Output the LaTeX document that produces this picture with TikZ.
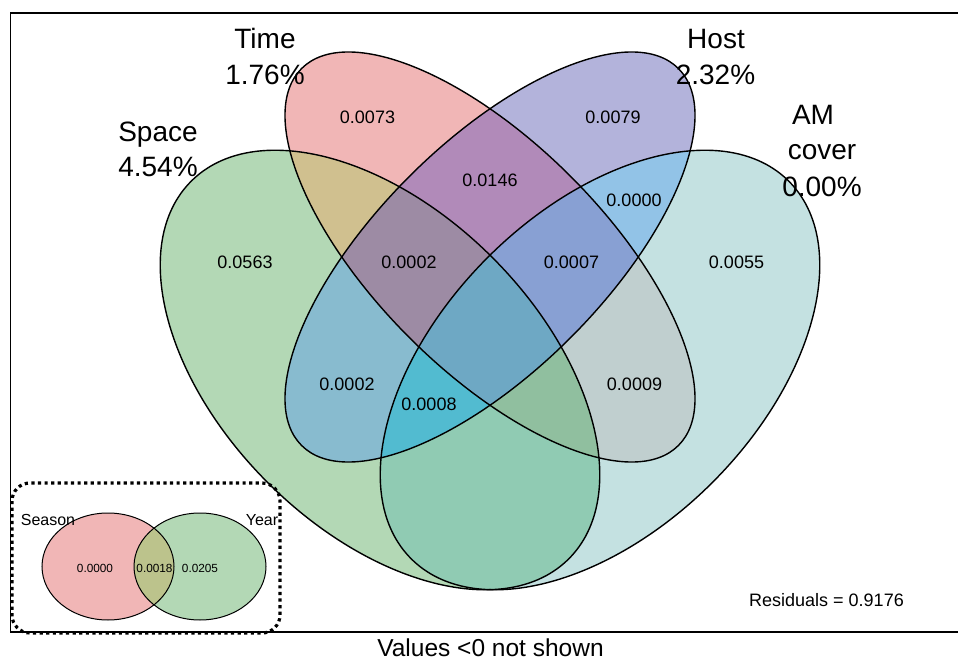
\documentclass[tikz,border=0pt]{standalone}
\usepackage{fontspec}
\setmainfont{Liberation Sans}
\definecolor{cS}{HTML}{B3D8B5}
\definecolor{cT}{HTML}{F1B6B6}
\definecolor{cH}{HTML}{B3B3DB}
\definecolor{cA}{HTML}{C4E1E1}
\definecolor{cST}{HTML}{D0C08F}
\definecolor{cTH}{HTML}{B18AB9}
\definecolor{cHA}{HTML}{92C3E7}
\definecolor{cSH}{HTML}{88BBCF}
\definecolor{cTA}{HTML}{C0CFCF}
\definecolor{cSA}{HTML}{90CBB3}
\definecolor{cSTH}{HTML}{9D8BA4}
\definecolor{cTHA}{HTML}{88A0D3}
\definecolor{cSHA}{HTML}{52BBD0}
\definecolor{cSTA}{HTML}{90BF9F}
\definecolor{cAll}{HTML}{6EA8C4}
\definecolor{cLens}{HTML}{BCC38C}
\begin{document}
\begin{tikzpicture}[x=1pt,y=-1pt,
  Srot/.style={rotate around={-45:(380,370)}},
  Trot/.style={rotate around={-45:(490,257)}},
  Hrot/.style={rotate around={45:(490,257)}},
  Arot/.style={rotate around={45:(600,370)}},
  outline/.style={draw=black,line width=1.4pt},
  val/.style={font=\fontsize{18}{20}\selectfont,inner sep=0pt},
  small/.style={font=\fontsize{11.8}{13}\selectfont,inner sep=0pt},
  setlab/.style={font=\fontsize{28}{36}\selectfont,inner sep=0pt,anchor=base},
  insetlab/.style={font=\fontsize{16}{18}\selectfont,inner sep=0pt,anchor=base}]
\useasboundingbox (0,0) rectangle (958,660);
% frame
\draw[line width=1.5pt] (958,13) -- (10.5,13) -- (10.5,632) -- (958,632);
% single sets
\fill[Srot,cS] (380,370) ellipse [x radius=267,y radius=159];
\fill[Trot,cT] (490,257) ellipse [x radius=266.5,y radius=114];
\fill[Hrot,cH] (490,257) ellipse [x radius=266.5,y radius=114];
\fill[Arot,cA] (600,370) ellipse [x radius=267,y radius=159];
% pairs
\begin{scope}\clip[Srot] (380,370) ellipse [x radius=267,y radius=159];
  \fill[Trot,cST] (490,257) ellipse [x radius=266.5,y radius=114];\end{scope}
\begin{scope}\clip[Srot] (380,370) ellipse [x radius=267,y radius=159];
  \fill[Hrot,cSH] (490,257) ellipse [x radius=266.5,y radius=114];\end{scope}
\begin{scope}\clip[Srot] (380,370) ellipse [x radius=267,y radius=159];
  \fill[Arot,cSA] (600,370) ellipse [x radius=267,y radius=159];\end{scope}
\begin{scope}\clip[Trot] (490,257) ellipse [x radius=266.5,y radius=114];
  \fill[Hrot,cTH] (490,257) ellipse [x radius=266.5,y radius=114];\end{scope}
\begin{scope}\clip[Trot] (490,257) ellipse [x radius=266.5,y radius=114];
  \fill[Arot,cTA] (600,370) ellipse [x radius=267,y radius=159];\end{scope}
\begin{scope}\clip[Hrot] (490,257) ellipse [x radius=266.5,y radius=114];
  \fill[Arot,cHA] (600,370) ellipse [x radius=267,y radius=159];\end{scope}
% triples
\begin{scope}\clip[Srot] (380,370) ellipse [x radius=267,y radius=159];
  \clip[Trot] (490,257) ellipse [x radius=266.5,y radius=114];
  \fill[Hrot,cSTH] (490,257) ellipse [x radius=266.5,y radius=114];\end{scope}
\begin{scope}\clip[Srot] (380,370) ellipse [x radius=267,y radius=159];
  \clip[Trot] (490,257) ellipse [x radius=266.5,y radius=114];
  \fill[Arot,cSTA] (600,370) ellipse [x radius=267,y radius=159];\end{scope}
\begin{scope}\clip[Srot] (380,370) ellipse [x radius=267,y radius=159];
  \clip[Hrot] (490,257) ellipse [x radius=266.5,y radius=114];
  \fill[Arot,cSHA] (600,370) ellipse [x radius=267,y radius=159];\end{scope}
\begin{scope}\clip[Trot] (490,257) ellipse [x radius=266.5,y radius=114];
  \clip[Hrot] (490,257) ellipse [x radius=266.5,y radius=114];
  \fill[Arot,cTHA] (600,370) ellipse [x radius=267,y radius=159];\end{scope}
% all four
\begin{scope}\clip[Srot] (380,370) ellipse [x radius=267,y radius=159];
  \clip[Trot] (490,257) ellipse [x radius=266.5,y radius=114];
  \clip[Hrot] (490,257) ellipse [x radius=266.5,y radius=114];
  \fill[Arot,cAll] (600,370) ellipse [x radius=267,y radius=159];\end{scope}
% outlines
\path[Srot,outline] (380,370) ellipse [x radius=267,y radius=159];
\path[Trot,outline] (490,257) ellipse [x radius=266.5,y radius=114];
\path[Hrot,outline] (490,257) ellipse [x radius=266.5,y radius=114];
\path[Arot,outline] (600,370) ellipse [x radius=267,y radius=159];
% set labels
\node[setlab] (time) at (265,49) {Time};
\node[setlab] (timep) at (265,85) {1.76\%};
\node[setlab] (space) at (158,142) {Space};
\node[setlab] (spacep) at (158,177) {4.54\%};
\node[setlab] (host) at (716,49) {Host};
\node[setlab] (hostp) at (715.5,85) {2.32\%};
\node[setlab] (am) at (813,125) {AM};
\node[setlab] (amc) at (822,160) {cover};
\node[setlab] (amp) at (822,197) {0.00\%};
% region values
\node[val] (v1) at (367.5,117.5) {0.0073};
\node[val] (v2) at (613,117.5) {0.0079};
\node[val] (v3) at (490,180) {0.0146};
\node[val] (v4) at (634,200) {0.0000};
\node[val] (v5) at (245,262) {0.0563};
\node[val] (v6) at (409,262) {0.0002};
\node[val] (v7) at (571.5,262) {0.0007};
\node[val] (v8) at (736.5,262) {0.0055};
\node[val] (v9) at (347,384) {0.0002};
\node[val] (v10) at (429,404) {0.0008};
\node[val] (v11) at (634.5,384) {0.0009};
\node[val] (resid) at (826.5,600) {Residuals = 0.9176};
\node[font=\fontsize{24.5}{28}\selectfont,inner sep=0pt] (note) at (490.5,648) {Values <0 not shown};
% inset
\fill[cT] (108,566.5) ellipse [x radius=66,y radius=53.5];
\fill[cS] (200,566.5) ellipse [x radius=66,y radius=53.5];
\begin{scope}\clip (108,566.5) ellipse [x radius=66,y radius=53.5];
  \fill[cLens] (200,566.5) ellipse [x radius=66,y radius=53.5];\end{scope}
\draw[line width=1pt] (108,566.5) ellipse [x radius=66,y radius=53.5];
\draw[line width=1pt] (200,566.5) ellipse [x radius=66,y radius=53.5];
\node[insetlab] (season) at (48,525) {Season};
\node[insetlab] (year) at (262,525) {Year};
\node[small] (i1) at (95,568) {0.0000};
\node[small] (i2) at (154.5,568) {0.0018};
\node[small] (i3) at (200,568) {0.0205};
\draw[line width=3.2pt,dash pattern=on 3.2pt off 3.4pt,rounded corners=18pt] (12,483) rectangle (280,633);
\end{tikzpicture}
\end{document}
